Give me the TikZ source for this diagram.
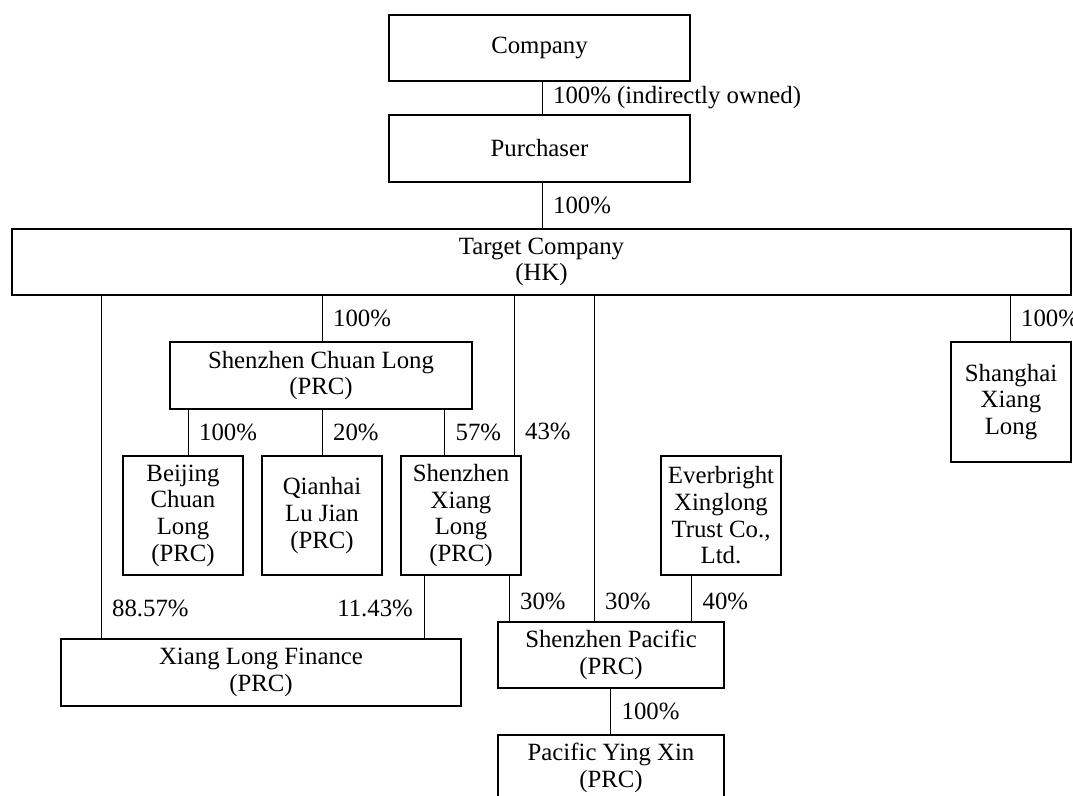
\documentclass[tikz,border=0pt]{standalone}
\usepackage{fontspec}
\setmainfont{Liberation Serif}
\usetikzlibrary{calc}
\tikzset{every picture/.style={/utils/exec={\fontsize{18.6}{20}\selectfont}}}

\begin{document}
\begin{tikzpicture}[x=0.75pt, y=-0.75pt,
    box/.style={draw, line width=0.9pt, inner sep=0pt, align=center},
    boxsize/.style 2 args={minimum width=#1*0.75pt, minimum height=#2*0.75pt},
    link/.style={line width=0.7pt},
    pct/.style={right, inner sep=0pt, xshift=8pt},
    pctl/.style={left, inner sep=0pt, xshift=-8pt}]
    \useasboundingbox (0,0) rectangle (1073,795);
    \node [box, boxsize={301}{66}] (company) at (539.5,48) {Company};
    \node [box, boxsize={301}{67}] (purchaser) at (539.5,148.5) {Purchaser};
    \node [box, boxsize={1059}{66}] (target) at (541.5,262) {Target Company\\(HK)};
    \node [box, boxsize={302}{67}] (chuanlong) at (321,375.5) {Shenzhen Chuan Long\\(PRC)};
    \node [box, boxsize={120}{120}] (shanghai) at (1011,402) {Shanghai\\Xiang\\Long};
    \node [box, boxsize={120}{119}] (beijing) at (183,515.5) {Beijing\\Chuan\\Long\\(PRC)};
    \node [box, boxsize={120}{119}] (qianhai) at (322,515.5) {Qianhai\\Lu Jian\\(PRC)};
    \node [box, boxsize={120}{119}] (szxiang) at (461,515.5) {Shenzhen\\Xiang\\Long\\(PRC)};
    \node [box, boxsize={120}{119}] (everbright) at (721,515.5) {Everbright\\Xinglong\\Trust Co.,\\Ltd.};
    \node [box, boxsize={400}{67}] (finance) at (261,672.5) {Xiang Long Finance\\(PRC)};
    \node [box, boxsize={226}{66}] (szpacific) at (611,655) {Shenzhen Pacific\\(PRC)};
    \node [box, boxsize={226}{66}] (yingxin) at (611,768) {Pacific Ying Xin\\(PRC)};
    % holdings from the top
    \draw [link] (company.south -| 542,0) -- node [pct] {100\% (indirectly owned)} (purchaser.north -| 542,0);
    \draw [link] (purchaser.south -| 542,0) -- node [pct] {100\%} (target.north -| 542,0);
    \draw [link] (target.south -| 101,0) -- node [pct, pos=0.913] {88.57\%} (finance.north -| 101,0);
    \draw [link] (target.south -| 322,0) -- node [pct] {100\%} (chuanlong.north -| 322,0);
    \draw [link] (target.south -| 514,0) -- node [pct, pos=0.85] {43\%} (szxiang.north -| 514,0);
    \draw [link] (target.south -| 594,0) -- node [pct, pos=0.94] {30\%} (szpacific.north -| 594,0);
    \draw [link] (target.south -| 1010,0) -- node [pct] {100\%} (shanghai.north -| 1010,0);
    % Shenzhen Chuan Long
    \draw [link] (chuanlong.south -| 188,0) -- node [pct] {100\%} (beijing.north -| 188,0);
    \draw [link] (chuanlong.south -| 322,0) -- node [pct] {20\%} (qianhai.north -| 322,0);
    \draw [link] (chuanlong.south -| 444.5,0) -- node [pct] {57\%} (szxiang.north -| 444.5,0);
    % lower level
    \draw [link] (szxiang.south -| 424,0) -- node [pctl, pos=0.53] {11.43\%} (finance.north -| 424,0);
    \draw [link] (szxiang.south -| 509,0) -- node [pct, pos=0.57] {30\%} (szpacific.north -| 509,0);
    \draw [link] (everbright.south -| 691.5,0) -- node [pct, pos=0.57] {40\%} (szpacific.north -| 691.5,0);
    \draw [link] (szpacific.south -| 610.5,0) -- node [pct] {100\%} (yingxin.north -| 610.5,0);
\end{tikzpicture}
\end{document}
